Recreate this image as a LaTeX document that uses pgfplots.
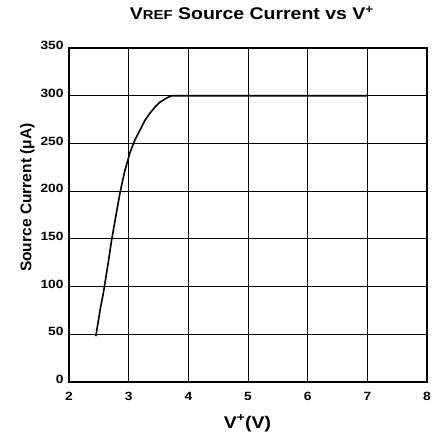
\documentclass[border=0pt]{standalone}
\usepackage{pgfplots}
\pgfplotsset{compat=1.18}
\usepackage{fontspec}
\setmainfont{Liberation Sans}[FakeStretch=1.15]
\newfontfamily\plainsans{Liberation Sans}
\begin{document}
\begin{tikzpicture}
\path[use as bounding box] (0bp,0bp) rectangle (432bp,436bp);
\begin{axis}[
  at={(69bp,54bp)}, anchor=south west,
  width=358bp, height=334bp, scale only axis,
  xmin=2, xmax=8, ymin=0, ymax=350,
  xtick={2,3,4,5,6,7,8}, ytick={0,50,100,150,200,250,300,350},
  grid=major,
  major grid style={black, line width=0.9bp},
  axis line style={black, line width=1.8bp},
  major tick length=0pt,
  /pgf/number format/assume math mode=true,
  tick label style={font=\fontsize{12}{14}\selectfont\bfseries},
  xticklabel style={yshift=-7bp},
  yticklabel style={xshift=-2bp, yshift=2.5bp},
  title={V{\fontsize{13}{15}\selectfont REF} Source Current vs V\textsuperscript{+}},
  title style={font=\fontsize{17}{19}\selectfont\bfseries, at={(axis description cs:0.511,1)}, anchor=base, yshift=22.3bp},
  xlabel={V\textsuperscript{+}(V)},
  xlabel style={font=\fontsize{17}{19}\selectfont\bfseries, at={(axis description cs:0.4986,0)}, anchor=base, yshift=-46bp},
  ylabel={Source Current (μA)},
  ylabel style={font=\plainsans\fontsize{15.6}{17}\selectfont\bfseries, at={(axis description cs:-0.116,0.552)}, anchor=center},
]
\addplot[black, line width=1.6bp] coordinates {
(2.45,48) (2.52,75) (2.575,93) (2.65,122) (2.715,149) (2.78,172) (2.854,198)
(2.93,220) (3.02,240) (3.1,253) (3.19,264) (3.27,274) (3.36,282) (3.44,288)
(3.52,293) (3.62,297) (3.72,300) (3.8,300) (7.0,300)
};
\end{axis}
\end{tikzpicture}
\end{document}
